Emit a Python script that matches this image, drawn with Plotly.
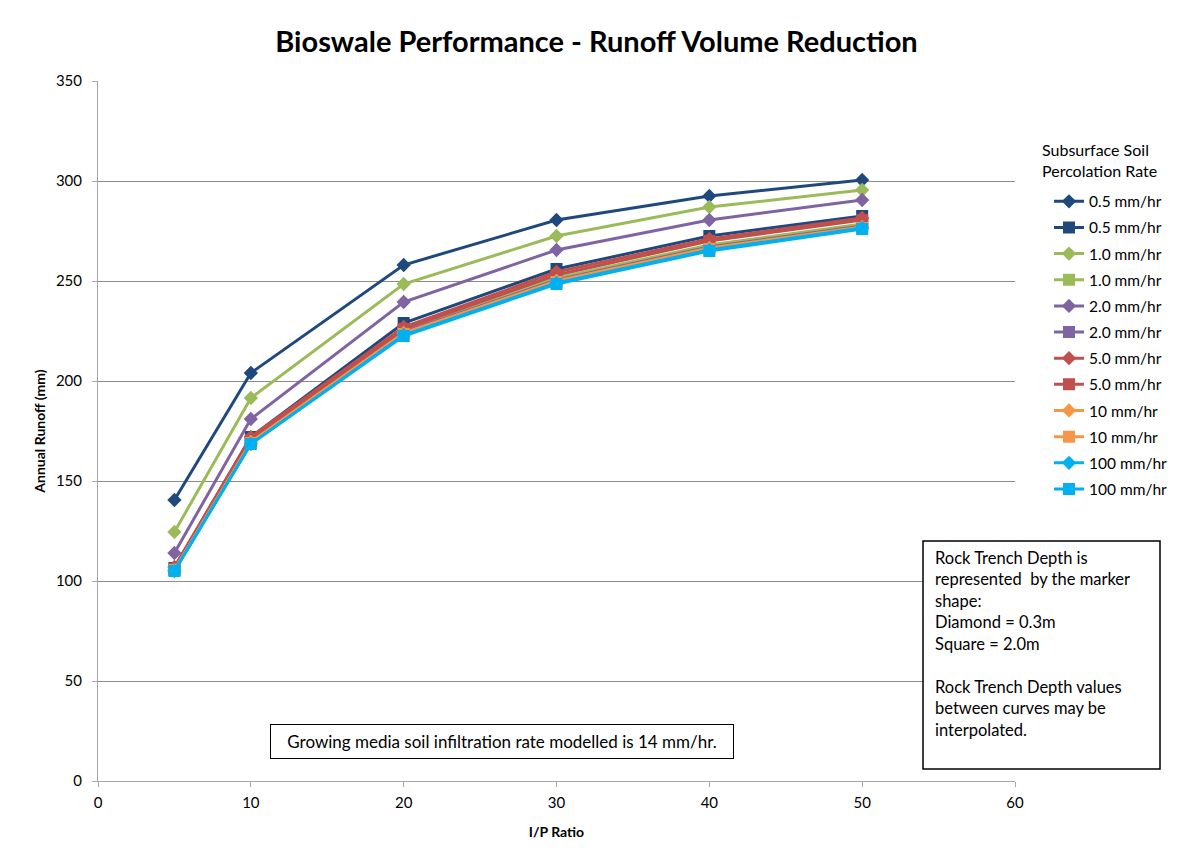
import plotly.graph_objects as go

ip_ratio = [5, 10, 20, 30, 40, 50]

rates = ["0.5 mm/hr", "0.5 mm/hr", "1.0 mm/hr", "1.0 mm/hr", "2.0 mm/hr", "2.0 mm/hr",
         "5.0 mm/hr", "5.0 mm/hr", "10 mm/hr", "10 mm/hr", "100 mm/hr", "100 mm/hr"]
symbols = ["diamond", "square"] * 6

r05_diamond = [140.5, 204, 258, 280.5, 292.5, 300.5]
r05_square = [106.5, 172, 229, 256, 272.5, 282.5]
r10_diamond = [124.5, 191.5, 248.5, 272.5, 287, 295.5]
r10_square = [106, 170, 225.5, 251.5, 268, 278.5]
r20_diamond = [114, 181, 239.5, 265.5, 280.5, 290.5]
r20_square = [105.5, 169.5, 224.5, 250.5, 267, 277.5]
r50_diamond = [107, 172, 227, 254.5, 271, 281.5]
r50_square = [106, 170.5, 226, 253, 270, 280.5]
r10h_diamond = [105.5, 169.5, 224, 250, 266.5, 277]
r10h_square = [105.5, 169, 223.5, 249.5, 266, 276.5]
r100_diamond = [105, 168.5, 223, 249, 265.5, 276.5]
r100_square = [105, 168.5, 222.5, 248.5, 265, 276]

series = [r05_diamond, r05_square, r10_diamond, r10_square, r20_diamond, r20_square,
          r50_diamond, r50_square, r10h_diamond, r10h_square, r100_diamond, r100_square]
colors = ["#1F497D", "#1F497D", "#9BBB59", "#9BBB59", "#8064A2", "#8064A2",
          "#C0504D", "#C0504D", "#F79646", "#F79646", "#00B0F0", "#00B0F0"]

FONT = "Lato, 'Open Sans', sans-serif"

fig = go.Figure()
for i, (vals, name, sym, col) in enumerate(zip(series, rates, symbols, colors)):
    fig.add_trace(go.Scatter(
        x=ip_ratio, y=vals, name=name, mode="lines+markers",
        line=dict(color=col, width=3),
        marker=dict(symbol=sym, size=11 if sym == "diamond" else 12, color=col),
        legendgroup=str(i),
    ))

fig.update_layout(
    width=1170, height=848,
    margin=dict(l=90, r=163, t=73, b=75, autoexpand=False),
    paper_bgcolor="white", plot_bgcolor="white",
    font=dict(family=FONT, size=15, color="black"),
    title=dict(text="<b>Bioswale Performance - Runoff Volume Reduction</b>",
               x=0.503, xanchor="center", y=0.96, yanchor="middle",
               font=dict(size=29, family=FONT, color="black")),
    xaxis=dict(range=[0, 60], dtick=10, showgrid=False, showline=True,
               linecolor="#A6A6A6", linewidth=1, ticks="outside", ticklen=5,
               tickcolor="#A6A6A6", zeroline=False, ticklabelstandoff=3,
               title=dict(text="<b>I/P Ratio</b>", font=dict(size=14), standoff=17),
               tickfont=dict(size=15)),
    yaxis=dict(range=[0, 350], dtick=50, showgrid=True, gridcolor="#8C8C8C",
               gridwidth=1, showline=True, linecolor="#A6A6A6", linewidth=1,
               ticks="outside", ticklen=5, tickcolor="#A6A6A6", zeroline=False,
               ticklabelstandoff=7,
               title=dict(text="<b>Annual Runoff (mm)</b>", font=dict(size=14), standoff=6),
               tickfont=dict(size=15)),
    legend=dict(xref="container", yref="container",
                x=(1049 - 8) / 1170, xanchor="left",
                y=1 - (184.7 - 8) / 848, yanchor="top",
                font=dict(size=15.5), tracegroupgap=3,
                bgcolor="rgba(0,0,0,0)"),
    showlegend=True,
)

fig.add_annotation(
    xref="paper", yref="paper", x=(1040 - 98) / 917, y=(781 - 137.5) / 700,
    xanchor="left", yanchor="top", align="left", showarrow=False,
    text="Subsurface Soil<br>Percolation Rate", font=dict(size=16, family=FONT),
)

fig.add_annotation(
    xref="paper", yref="paper", x=(502 - 98) / 917, y=(781 - 741) / 700,
    xanchor="center", yanchor="middle",
    text="Growing media soil infiltration rate modelled is 14 mm/hr.",
    showarrow=False, font=dict(size=17, family=FONT),
    bordercolor="black", borderwidth=1, borderpad=6, width=450,
    bgcolor="white",
)

fig.add_shape(type="rect", xref="paper", yref="paper",
              x0=(923 - 98) / 917, x1=(1160 - 98) / 917,
              y0=(781 - 769) / 700, y1=(781 - 541) / 700,
              line=dict(color="black", width=1.5), fillcolor="white")
fig.add_annotation(
    xref="paper", yref="paper", x=(933 - 98) / 917, y=(781 - 546) / 700,
    xanchor="left", yanchor="top", align="left", showarrow=False,
    text=("Rock Trench Depth is<br>represented  by the marker<br>shape:<br>"
          "Diamond = 0.3m<br>Square = 2.0m<br><br>Rock Trench Depth values<br>"
          "between curves may be<br>interpolated."),
    font=dict(size=16.5, family=FONT),
)

fig.write_html("out.html")
